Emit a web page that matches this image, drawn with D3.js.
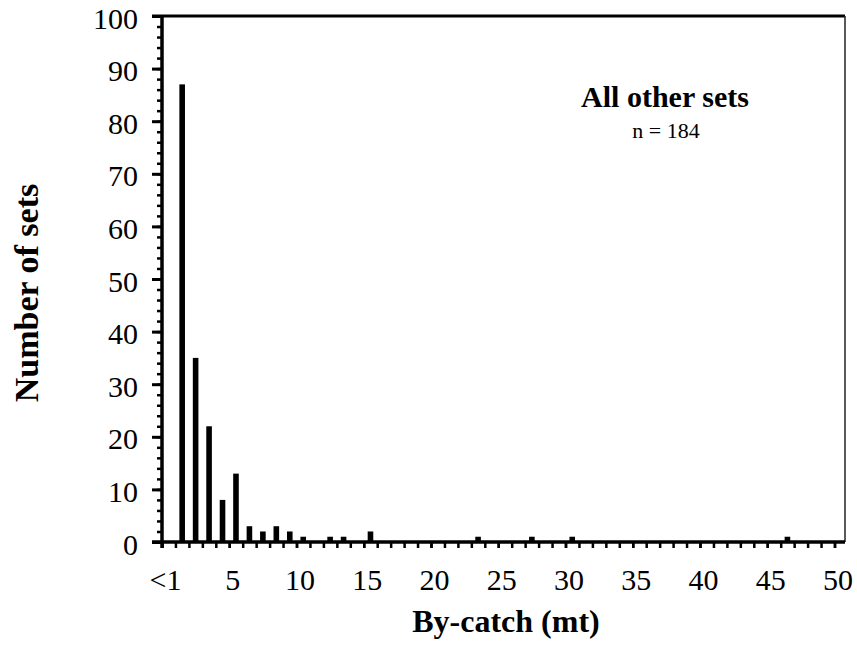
<!DOCTYPE html>
<html>
<head>
<meta charset="utf-8">
<script src="https://cdn.jsdelivr.net/npm/d3@7"></script>
<style>
  body { margin: 0; background: #fff; }
  svg text { font-family: "Liberation Serif", "Times New Roman", serif; fill: #000; }
</style>
</head>
<body>
<div class="chart"></div>
<script>
var w = 857;
var h = 648;

// bins (t), start of each 1 mt class; first is the "<1" bar
var binStart = [1, 2, 3, 4, 5, 6, 7, 8, 9, 10, 12, 13, 15, 23, 27, 30, 46];
var counts   = [87, 35, 22, 8, 13, 3, 2, 3, 2, 1, 1, 1, 2, 1, 1, 1, 1];
var xTicks = [0, 5, 10, 15, 20, 25, 30, 35, 40, 45, 50];
var xTickLabels = ["<1", "5", "10", "15", "20", "25", "30", "35", "40", "45", "50"];
var yTicks = [0, 10, 20, 30, 40, 50, 60, 70, 80, 90, 100];

var svg = d3.select('.chart')
            .append('svg')
            .attr('width', w)
            .attr('height', h);

var x = d3.scaleLinear().domain([0, 50]).range([162, 834.5]);
var y = d3.scaleLinear().domain([0, 100]).range([542, 16]);

// frame top and right
svg.append('line')
   .attr('x1', 152).attr('x2', 845)
   .attr('y1', y(100)).attr('y2', y(100))
   .attr('stroke', '#000').attr('stroke-width', 3);
svg.append('line')
   .attr('x1', 845).attr('x2', 845)
   .attr('y1', y(100)).attr('y2', y(0))
   .attr('stroke', '#222').attr('stroke-width', 1.5);

// bars
svg.selectAll('rect.bar')
   .data(counts)
   .enter()
   .append('rect')
   .attr('class', 'bar')
   .attr('x', function (d, i) { return x(binStart[i] + 0.5) - 2.8; })
   .attr('width', 5.6)
   .attr('y', function (d) { return y(d); })
   .attr('height', function (d) { return y(0) - y(d); })
   .attr('fill', '#000');

// y axis: majors every 10, minors every 2
var yAxis = d3.axisLeft(y)
              .tickValues(yTicks)
              .tickSize(10)
              .tickPadding(14)
              .tickFormat(d3.format('d'));
var gy = svg.append('g')
            .attr('transform', 'translate(' + x(0) + ',0)')
            .call(yAxis);
gy.selectAll('.tick line').attr('stroke-width', 3);
gy.select('.domain').remove();
gy.selectAll('text').style('font-size', '30px').attr('dy', '0.4em');

var gyMinor = svg.append('g')
                 .attr('transform', 'translate(' + x(0) + ',0)')
                 .call(d3.axisLeft(y).ticks(50).tickSize(5).tickFormat(''));
gyMinor.select('.domain').remove();
gyMinor.selectAll('.tick line').attr('stroke-width', 2.5);

// x axis: tick per unit, labels every 5
var gxMinor = svg.append('g')
                 .attr('transform', 'translate(0,' + y(0) + ')')
                 .call(d3.axisBottom(x).ticks(50).tickSize(6).tickFormat(''));
gxMinor.select('.domain').remove();
gxMinor.selectAll('.tick line').attr('stroke-width', 2.5);

var gx = svg.append('g')
            .attr('transform', 'translate(0,' + y(0) + ')')
            .call(d3.axisBottom(x)
                    .tickValues(xTicks)
                    .tickSize(6)
                    .tickPadding(21)
                    .tickFormat(function (d, i) { return xTickLabels[i]; }));
gx.select('.domain').remove();
gx.selectAll('.tick line').attr('stroke-width', 2.5);
gx.selectAll('text').style('font-size', '30px').attr('dx', 3);

// axis lines drawn last so they sit on top
svg.append('line')
   .attr('x1', x(0)).attr('x2', x(0))
   .attr('y1', y(100)).attr('y2', y(0) + 6)
   .attr('stroke', '#000').attr('stroke-width', 3.5);
svg.append('line')
   .attr('x1', 152).attr('x2', 845)
   .attr('y1', y(0)).attr('y2', y(0))
   .attr('stroke', '#000').attr('stroke-width', 3.5);

// titles
svg.append('text')
   .attr('x', 506).attr('y', 632)
   .attr('text-anchor', 'middle')
   .style('font-size', '32px').style('font-weight', 'bold')
   .text('By-catch (mt)');

svg.append('text')
   .attr('transform', 'translate(38,' + 293 + ') rotate(-90)')
   .attr('text-anchor', 'middle')
   .style('font-size', '34px').style('font-weight', 'bold')
   .text('Number of sets');

svg.append('text')
   .attr('x', 665).attr('y', 107)
   .attr('text-anchor', 'middle')
   .style('font-size', '30px').style('font-weight', 'bold')
   .text('All other sets');

svg.append('text')
   .attr('x', 666).attr('y', 138)
   .attr('text-anchor', 'middle')
   .style('font-size', '22px')
   .text('n = 184');
</script>
</body>
</html>
